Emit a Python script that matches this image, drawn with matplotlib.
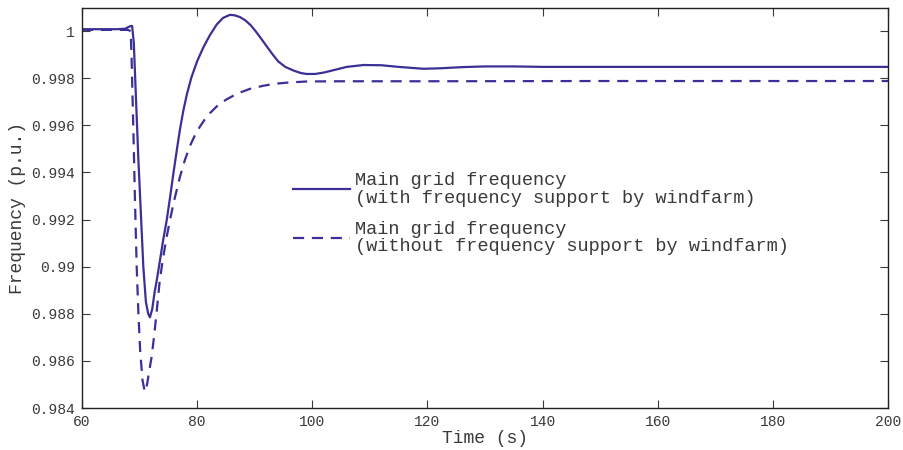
import matplotlib
matplotlib.use("Agg")
import matplotlib.pyplot as plt
from matplotlib.ticker import FuncFormatter

# Solid: with frequency support by windfarm
t_with = [60, 66, 67.5, 68.3, 68.7, 69.0, 69.4, 69.8, 70.2, 70.65, 71.1, 71.5, 71.8,
          72.2, 72.6, 73.0, 73.5, 74.1, 74.7, 75.3, 75.9, 76.5, 77.0, 77.6, 78.2,
          79.0, 80.0, 81.1, 82.2, 83.4, 84.5, 85.7, 86.5, 87.4, 88.4, 89.3, 90.3,
          91.3, 92.3, 93.2, 94.1, 95.3, 96.8, 98.0, 99.0, 100.5, 102, 104, 106,
          108.9, 112, 115, 119.3, 122.2, 126, 130, 135, 140, 150, 160, 170, 180,
          190, 200]
f_with = [1.00008, 1.00008, 1.00010, 1.00020, 1.00022, 0.99950, 0.99700, 0.99450,
          0.99240, 0.99000, 0.98850, 0.98800, 0.98785, 0.98820, 0.98890, 0.98944,
          0.99020, 0.99113, 0.99195, 0.99295, 0.99400, 0.99500, 0.99580, 0.99662,
          0.99730, 0.99803, 0.99872, 0.99932, 0.99982, 1.00028, 1.00056, 1.00069,
          1.00067, 1.00060, 1.00045, 1.00025, 0.99995, 0.99962, 0.99928, 0.99898,
          0.99871, 0.99848, 0.99832, 0.99822, 0.99818, 0.99818, 0.99824, 0.99836,
          0.99848, 0.99856, 0.99855, 0.99848, 0.99840, 0.99842, 0.99847, 0.99850,
          0.99850, 0.99848, 0.99848, 0.99848, 0.99848, 0.99848, 0.99848, 0.99848]

# Dashed: without frequency support by windfarm
t_without = [60, 68.0, 68.45, 68.6, 68.8, 69.0, 69.2, 69.5, 69.8, 70.1, 70.5, 70.9,
             71.3, 71.7, 72.1, 72.5, 73.0, 73.5, 74.1, 74.7, 75.3, 76.0, 77.0, 77.9,
             78.8, 79.6, 80.5, 81.3, 82.2, 83.6, 85.1, 87.0, 89.2, 91.5, 93.8, 96,
             99, 105, 120, 150, 200]
f_without = [1.00005, 1.00005, 1.00000, 0.99900, 0.99700, 0.99500, 0.99280, 0.99000,
             0.98800, 0.98646, 0.98520, 0.98469, 0.98500, 0.98560, 0.98618, 0.98700,
             0.98816, 0.98940, 0.99040, 0.99125, 0.99200, 0.99280, 0.99380, 0.99455,
             0.99515, 0.99557, 0.99595, 0.99624, 0.99651, 0.99685, 0.99710, 0.99735,
             0.99755, 0.99768, 0.99777, 0.99782, 0.99786, 0.99787, 0.99787, 0.99788,
             0.99788]

x_ticks = [60, 80, 100, 120, 140, 160, 180, 200]
y_ticks = [0.984, 0.986, 0.988, 0.99, 0.992, 0.994, 0.996, 0.998, 1.0]

label_with = "Main grid frequency\n(with frequency support by windfarm)"
label_without = "Main grid frequency\n(without frequency support by windfarm)"

color = "#3a3096"
text_color = "#3a3a3a"
mono = "Liberation Mono"

fig = plt.figure(figsize=(9.04, 4.5), dpi=100)
ax = fig.add_axes([82/904, 1-408/450, (888-82)/904, 400/450])
ax.plot(t_with, f_with, color=color, lw=1.6, label=label_with)
ax.plot(t_without, f_without, color=color, lw=1.6, ls=(0, (5, 3.5)), label=label_without)

ax.set_xlim(60, 200)
ax.set_ylim(0.984, 1.00098)
ax.set_xticks(x_ticks)
ax.set_yticks(y_ticks)
ax.yaxis.set_major_formatter(FuncFormatter(lambda v, p: "%g" % round(v, 4)))
ax.tick_params(direction="in", length=6, width=0.8, top=True, right=True,
               labelsize=10.5, colors=text_color, pad=5)
for lab in ax.get_xticklabels() + ax.get_yticklabels():
    lab.set_family(mono)
for s in ax.spines.values():
    s.set_linewidth(1.0)
    s.set_color("#222222")

ax.set_xlabel("Time (s)", family=mono, fontsize=13, color=text_color, labelpad=1)
ax.set_ylabel("Frequency (p.u.)", family=mono, fontsize=13, color=text_color, labelpad=4)

leg = ax.legend(loc="upper left", bbox_to_anchor=(293/904, 1-172/450),
                bbox_transform=fig.transFigure, frameon=False, borderpad=0,
                borderaxespad=0, handlelength=3.05, handletextpad=0.3,
                labelspacing=0.75, prop={"family": mono, "size": 13.4})
for txt in leg.get_texts():
    txt.set_color(text_color)
    txt.set_linespacing(1.05)

fig.savefig("out.png", dpi=100)
